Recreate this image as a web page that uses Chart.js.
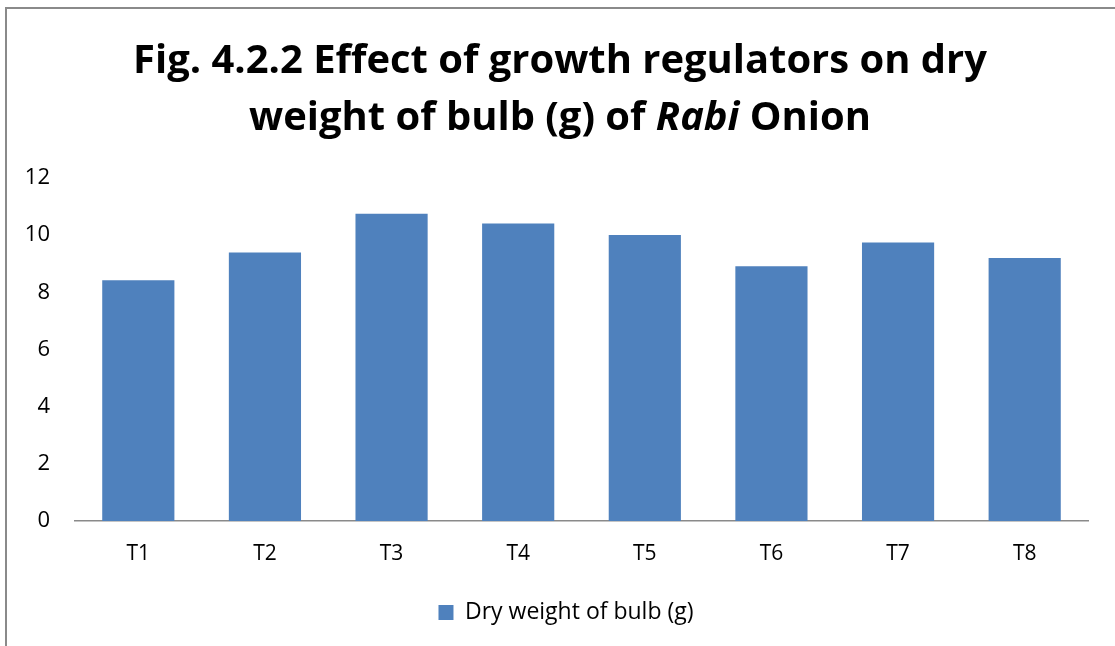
<!DOCTYPE html>
<html>
<head>
    <script src="https://cdn.jsdelivr.net/npm/chart.js@4.4.1/dist/chart.umd.min.js"></script>
    <style>
        html, body { margin: 0; padding: 0; background: #fff; }
        #wrap { width: 1115px; height: 646px; position: relative; }
    </style>
</head>
<body>
<div id="wrap">
    <canvas id="myChart" width="1115" height="646"></canvas>
</div>

<script>
    const categories = ["T1", "T2", "T3", "T4", "T5", "T6", "T7", "T8"];
    const dryWeight = [8.42, 9.39, 10.75, 10.41, 10.01, 8.91, 9.74, 9.20];
    const seriesName = "Dry weight of bulb (g)";
    const yTicks = [0, 2, 4, 6, 8, 10, 12];

    // title has an italic word, so it is drawn by hand in segments
    const titleLines = [
        [{ text: "Fig. 4.2.2 Effect of growth regulators on dry", italic: false }],
        [
            { text: "weight of bulb (g) of ", italic: false },
            { text: "Rabi", italic: true },
            { text: " Onion", italic: false }
        ]
    ];

    const fontFamily = "'Open Sans', 'Liberation Sans', sans-serif";

    const frameAndTitle = {
        id: "frameAndTitle",
        afterLayout(chart) {
            // legend sits a bit right of the canvas centre in the original
            if (chart.legend) {
                chart.legend.left += 22;
                chart.legend.right += 22;
            }
        },
        afterDraw(chart) {
            const ctx = chart.ctx;
            ctx.save();
            // outer frame (only left and top edges are visible)
            ctx.strokeStyle = "#8a8a8a";
            ctx.lineWidth = 2;
            ctx.beginPath();
            ctx.moveTo(6, 650);
            ctx.lineTo(6, 8);
            ctx.lineTo(1120, 8);
            ctx.stroke();

            // fit first line to the width seen in the picture
            let size = 40;
            ctx.font = "bold " + size + "px " + fontFamily;
            const w = ctx.measureText(titleLines[0][0].text).width;
            size = Math.min(46, size * 854 / w);

            const cx = 560;
            const baselines = [73, 130];
            ctx.fillStyle = "#000";
            ctx.textBaseline = "alphabetic";
            titleLines.forEach((segs, i) => {
                let total = 0;
                segs.forEach(s => {
                    ctx.font = (s.italic ? "italic " : "") + "bold " + size + "px " + fontFamily;
                    s.w = ctx.measureText(s.text).width;
                    total += s.w;
                });
                let x = cx - total / 2;
                segs.forEach(s => {
                    ctx.font = (s.italic ? "italic " : "") + "bold " + size + "px " + fontFamily;
                    ctx.textAlign = "left";
                    ctx.fillText(s.text, x, baselines[i]);
                    x += s.w;
                });
            });
            ctx.restore();
        }
    };

    let myChart = new Chart("myChart", {
        type: "bar",
        data: {
            labels: categories,
            datasets: [{
                label: seriesName,
                data: dryWeight,
                backgroundColor: "#4F81BD",
                borderWidth: 0,
                barPercentage: 0.57,
                categoryPercentage: 1.0
            }]
        },
        options: {
            responsive: false,
            animation: false,
            layout: {
                padding: { left: 0, top: 178, right: 27, bottom: 12 }
            },
            plugins: {
                title: { display: false },
                tooltip: { enabled: false },
                legend: {
                    position: "bottom",
                    labels: {
                        boxWidth: 15,
                        boxHeight: 15,
                        padding: 10,
                        color: "#000",
                        font: { family: fontFamily, size: 23 }
                    }
                }
            },
            scales: {
                x: {
                    grid: { display: false, drawTicks: false },
                    border: { display: true, color: "#8a8a8a", width: 1.5 },
                    ticks: {
                        color: "#000",
                        padding: 20,
                        font: { family: fontFamily, size: 21 }
                    },
                    afterFit(scale) { scale.height = 70; }
                },
                y: {
                    min: 0,
                    max: 12,
                    afterBuildTicks(scale) {
                        scale.ticks = yTicks.map(v => ({ value: v }));
                    },
                    grid: { display: false, drawTicks: false },
                    border: { display: false },
                    ticks: {
                        color: "#000",
                        padding: 25,
                        font: { family: fontFamily, size: 22 }
                    },
                    afterFit(scale) { scale.width = 75; }
                }
            }
        },
        plugins: [frameAndTitle]
    });
</script>
</body>
</html>
